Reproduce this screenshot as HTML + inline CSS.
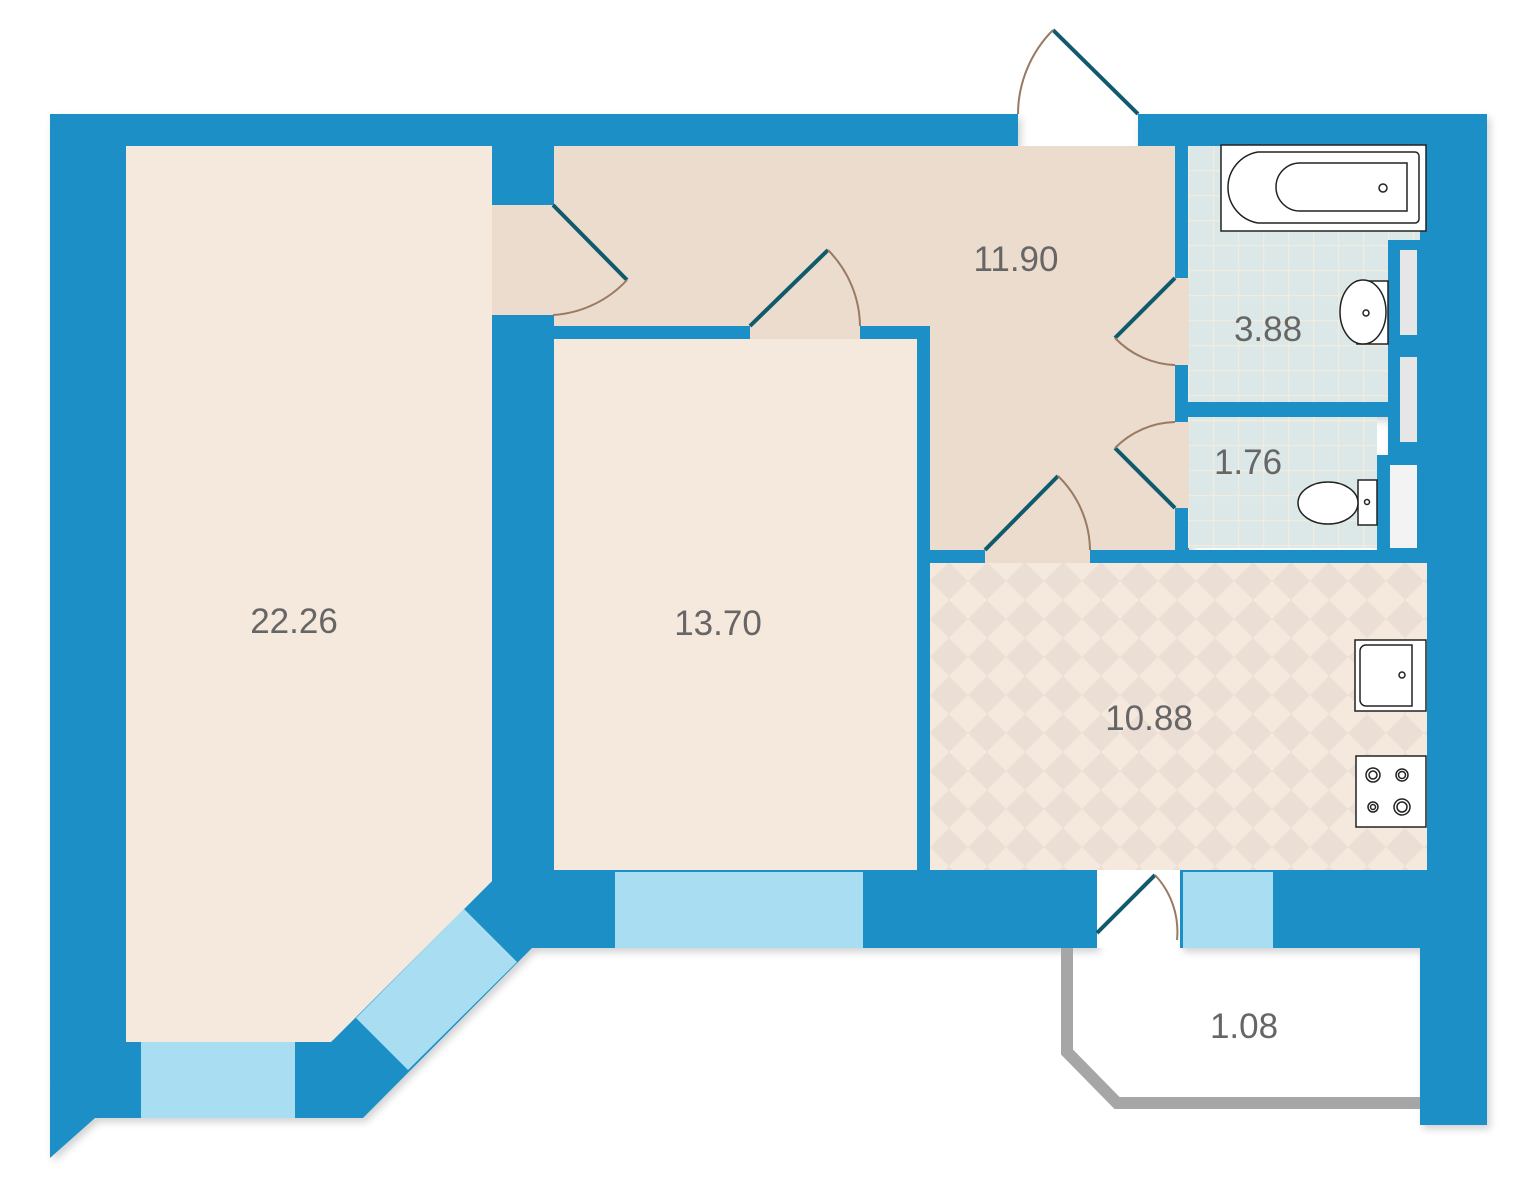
<!DOCTYPE html>
<html><head><meta charset="utf-8"><style>
html,body{margin:0;padding:0;background:#fff;}
svg{display:block;}
text{font-family:"Liberation Sans","DejaVu Sans",sans-serif;fill:#666;font-size:35px;text-anchor:middle;}
</style></head><body>
<svg width="1535" height="1188" viewBox="0 0 1535 1188" xmlns="http://www.w3.org/2000/svg">
<defs>
<pattern id="dia" width="38" height="38" patternUnits="userSpaceOnUse" x="930" y="562">
<rect width="38" height="38" fill="#f5e9dd"/>
<polygon points="19,0 38,19 19,38 0,19" fill="#ebdfd5"/>
</pattern>
<pattern id="tile" width="25" height="25" patternUnits="userSpaceOnUse" x="1188" y="145">
<rect width="25" height="25" fill="#dce8e7"/>
<path d="M0 0.5H25M0.5 0V25" stroke="#f1ece0" stroke-width="1.5"/>
</pattern>
<filter id="sh" x="-5%" y="-5%" width="110%" height="110%"><feDropShadow dx="3" dy="4" stdDeviation="4" flood-color="#000" flood-opacity="0.18"/></filter>
</defs>

<g filter="url(#sh)" fill="#1a8fc6">
<rect x="50" y="114" width="968" height="32"/>
<rect x="1138" y="114" width="349" height="32"/>
<rect x="50" y="114" width="76" height="1004"/>
<polygon points="50,1080 95,1118 50,1158"/>
<rect x="1420" y="114" width="67" height="1011"/>
<rect x="126" y="1040" width="210" height="78"/>
<polygon points="331,1042 492,881 532,948 363,1118 300,1118 300,1042"/>
<rect x="492" y="870" width="605" height="78"/>
<rect x="1180" y="870" width="240" height="78"/>
<rect x="492" y="145" width="62" height="60"/>
<rect x="492" y="315" width="62" height="570"/>
<rect x="553" y="326" width="377" height="13"/>
<rect x="917" y="326" width="13" height="545"/>
<rect x="930" y="550" width="497" height="13"/>
<rect x="1175" y="145" width="14" height="410"/>
<rect x="1188" y="402" width="232" height="15"/>
<rect x="1388" y="240" width="39" height="315"/>
<rect x="1377" y="455" width="20" height="100"/>
</g>

<polygon points="126,146 492,146 492,881 331,1042 126,1042" fill="#f5e8dc"/>
<path d="M554,146H1175V550H930V326H554Z" fill="#ecdccd"/>
<rect x="492" y="205" width="62" height="110" fill="#ecdccd"/>
<rect x="554" y="339" width="363" height="531" fill="#f5e8dc"/>
<rect x="930" y="563" width="497" height="307" fill="url(#dia)"/>
<rect x="1188" y="146" width="232" height="94" fill="url(#tile)"/>
<rect x="1188" y="240" width="200" height="162" fill="url(#tile)"/>
<rect x="1188" y="417" width="189" height="131" fill="url(#tile)"/>
<rect x="1175" y="278" width="14" height="87" fill="#ecdccd"/>
<rect x="1175" y="422" width="14" height="86" fill="#ecdccd"/>
<rect x="750" y="326" width="110" height="13" fill="#ecdccd"/>
<rect x="985" y="550" width="105" height="13" fill="#ecdccd"/>
<rect x="1097" y="870" width="83" height="78" fill="#fff"/>

<rect x="1400" y="250" width="17" height="85" fill="#e6e6e6"/>
<rect x="1400" y="357" width="17" height="85" fill="#e6e6e6"/>
<rect x="1390" y="465" width="27" height="83" fill="#f3f3f3"/>

<g fill="#a9def2">
<rect x="141" y="1042" width="154" height="76"/>
<polygon points="356,1018 464,909 517,962 408,1070"/>
<rect x="615" y="872" width="248" height="76"/>
<rect x="1183" y="872" width="90" height="76"/>
</g>

<polyline points="1067,948 1067,1052 1117,1103 1420,1103" fill="none" stroke="#a6a6a6" stroke-width="12"/>

<g fill="none" stroke-width="4" stroke="#0f5a6c">
<line x1="1138" y1="114" x2="1053" y2="30"/>
<line x1="553" y1="205" x2="627" y2="280"/>
<line x1="750" y1="326" x2="828" y2="250"/>
<line x1="1175" y1="278" x2="1115" y2="338"/>
<line x1="1175" y1="508" x2="1115" y2="448"/>
<line x1="985" y1="550" x2="1058" y2="476"/>
<line x1="1097" y1="933" x2="1155" y2="875"/>
</g>
<g fill="none" stroke-width="2" stroke="#9a7a62">
<path d="M1053,30 A120,120 0 0 0 1018,114"/>
<path d="M627,280 A110,110 0 0 1 553,315"/>
<path d="M828,250 A110,110 0 0 1 860,326"/>
<path d="M1115,338 A87,87 0 0 0 1175,365"/>
<path d="M1115,448 A87,87 0 0 1 1175,422"/>
<path d="M1058,476 A105,105 0 0 1 1090,550"/>
<path d="M1155,875 A83,83 0 0 1 1177,940"/>
</g>

<g stroke="#222" stroke-width="1.5" fill="#fff">
<rect x="1221" y="145" width="205" height="86"/>
<path d="M1258,152H1415a4,4 0 0 1 4,4V219a4,4 0 0 1 -4,4H1258a36,36 0 0 1 0,-71Z"/>
<path d="M1300,163H1407V211H1300a24,24 0 0 1 0,-48Z"/>
<circle cx="1383" cy="188" r="4"/>
<rect x="1357" y="281" width="31" height="63"/>
<ellipse cx="1363" cy="312" rx="23" ry="32"/>
<circle cx="1366" cy="313" r="3"/>
<rect x="1358" y="480" width="19" height="45"/>
<ellipse cx="1328" cy="503" rx="30" ry="21"/>
<circle cx="1367" cy="502" r="2.5"/>
<rect x="1355" y="640" width="71" height="71"/>
<path d="M1366,645H1412V706H1366a6,6 0 0 1 -6,-6V651a6,6 0 0 1 6,-6Z"/>
<circle cx="1402" cy="675" r="3"/>
<rect x="1356" y="756" width="70" height="71"/>
<circle cx="1373" cy="775" r="7"/><circle cx="1373" cy="775" r="4"/>
<circle cx="1402" cy="775" r="6"/><circle cx="1402" cy="775" r="3.5"/>
<circle cx="1373" cy="807" r="5"/><circle cx="1373" cy="807" r="2.5"/>
<circle cx="1402" cy="807" r="8"/><circle cx="1402" cy="807" r="5"/>
</g>

<text x="294" y="633">22.26</text>
<text x="718" y="635">13.70</text>
<text x="1016" y="271">11.90</text>
<text x="1268" y="341">3.88</text>
<text x="1248" y="474">1.76</text>
<text x="1149" y="730">10.88</text>
<text x="1244" y="1038">1.08</text>
</svg>
</body></html>
